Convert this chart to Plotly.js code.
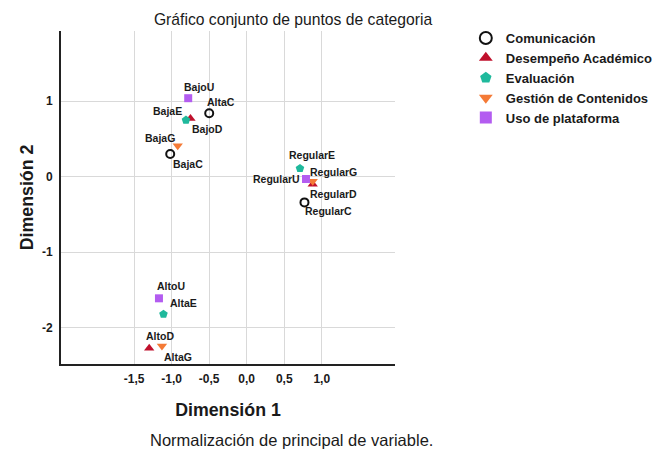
<!DOCTYPE html>
<html>
<head>
<meta charset="utf-8">
<script src="https://cdn.plot.ly/plotly-3.0.1.min.js"></script>
<style>html,body{margin:0;padding:0;background:#fff;}#chart{width:657px;height:449px;}</style>
</head>
<body>
<div id="chart"></div>
<script>
// ---- Data ----
const categories = ['Comunicación', 'Desempeño Académico', 'Evaluación', 'Gestión de Contenidos', 'Uso de plataforma'];

const comLabels = ['AltaC', 'BajaC', 'RegularC'];
const comX = [-0.50, -1.02, 0.77];
const comY = [0.84, 0.30, -0.34];

const desLabels = ['BajoD', 'RegularD', 'AltoD'];
const desX = [-0.75, 0.88, -1.30];
const desY = [0.77, -0.10, -2.27];

const evaLabels = ['BajaE', 'RegularE', 'AltaE'];
const evaX = [-0.81, 0.71, -1.11];
const evaY = [0.75, 0.11, -1.82];

const gesLabels = ['BajaG', 'RegularG', 'AltaG'];
const gesX = [-0.92, 0.88, -1.13];
const gesY = [0.41, -0.06, -2.24];

const usoLabels = ['BajoU', 'RegularU', 'AltoU'];
const usoX = [-0.78, 0.79, -1.17];
const usoY = [1.04, -0.03, -1.61];

const xTickVals = [-1.5, -1.0, -0.5, 0.0, 0.5, 1.0];
const xTickText = ['-1,5', '-1,0', '-0,5', '0,0', '0,5', '1,0'];
const yTickVals = [-2, -1, 0, 1];
const yTickText = ['-2', '-1', '0', '1'];

// ---- Styles (label pixel offsets, marker looks) ----
const labelOffsets = {
  AltaC: [12, -11], BajaC: [18, 10], RegularC: [24, 9],
  BajoD: [17, 10], RegularD: [21, 10], AltoD: [11, -12],
  BajaE: [-18, -9], RegularE: [12, -13], AltaE: [20, -11],
  BajaG: [-18, -8], RegularG: [21, -9], AltaG: [16, 11],
  BajoU: [11, -11], RegularU: [-29, 0], AltoU: [12, -12]
};

const FONT = 'Liberation Sans, Arial, Helvetica, sans-serif';

const seriesDefs = [
  {x: comX, y: comY, labels: comLabels, marker: {symbol: 'circle-open', size: 8, color: '#111', line: {width: 2, color: '#111'}}},
  {x: desX, y: desY, labels: desLabels, marker: {symbol: 'triangle-up', size: 9, color: '#c0102c', line: {width: 0}}},
  {x: evaX, y: evaY, labels: evaLabels, marker: {symbol: 'pentagon', size: 9, color: '#1fb99c', line: {width: 0}}},
  {x: gesX, y: gesY, labels: gesLabels, marker: {symbol: 'triangle-down', size: 9, color: '#f47a36', line: {width: 0}}},
  {x: usoX, y: usoY, labels: usoLabels, marker: {symbol: 'square', size: 8, color: '#b35cf0', line: {width: 0}}}
];

const traces = seriesDefs.map((s, i) => ({
  type: 'scatter',
  mode: 'markers',
  name: categories[i],
  x: s.x,
  y: s.y,
  text: s.labels,
  marker: s.marker,
  hoverinfo: 'text'
}));

const annotations = [];
seriesDefs.forEach(s => {
  s.labels.forEach((lab, j) => {
    const off = labelOffsets[lab] || [0, 0];
    annotations.push({
      x: s.x[j], y: s.y[j], xref: 'x', yref: 'y',
      text: lab, showarrow: false,
      xanchor: 'center', yanchor: 'middle',
      xshift: off[0], yshift: -off[1],
      font: {family: FONT, size: 10.5, color: '#1a1a1a', weight: 'bold'}
    });
  });
});

annotations.push({
  xref: 'paper', yref: 'paper', x: 0.6916, y: -0.228,
  xanchor: 'center', yanchor: 'middle', showarrow: false,
  text: 'Normalización de principal de variable.',
  font: {family: FONT, size: 16.5, color: '#1a1a1a'}
});

const layout = {
  width: 657, height: 449,
  margin: {l: 61, r: 262, t: 31, b: 85, pad: 0},
  paper_bgcolor: '#fff', plot_bgcolor: '#fff',
  separators: ',.',
  font: {family: FONT, color: '#1a1a1a'},
  title: {
    text: 'Gráfico conjunto de puntos de categoria',
    x: 0.446, xref: 'container', xanchor: 'center',
    y: 0.956, yref: 'container', yanchor: 'middle',
    font: {family: FONT, size: 15.7, color: '#1a1a1a'}
  },
  xaxis: {
    range: [-2.476, 1.977],
    tickvals: xTickVals, ticktext: xTickText,
    showgrid: true, gridcolor: '#d9d9d9', gridwidth: 1,
    zeroline: false, showline: true, linecolor: '#222', linewidth: 2,
    ticks: '', mirror: false, ticklabelstandoff: 3,
    tickfont: {family: FONT, size: 12, color: '#1a1a1a', weight: 'bold'},
    title: {text: 'Dimensión 1', standoff: 18, font: {family: FONT, size: 17.8, color: '#1a1a1a', weight: 'bold'}}
  },
  yaxis: {
    range: [-2.48, 1.93],
    tickvals: yTickVals, ticktext: yTickText,
    showgrid: true, gridcolor: '#d9d9d9', gridwidth: 1,
    zeroline: false, showline: true, linecolor: '#222', linewidth: 2,
    ticks: '', mirror: false, ticklabelstandoff: 4,
    tickfont: {family: FONT, size: 12, color: '#1a1a1a', weight: 'bold'},
    title: {text: 'Dimensión 2', standoff: 4, font: {family: FONT, size: 17.8, color: '#1a1a1a', weight: 'bold'}}
  },
  legend: {
    x: 0.709, xref: 'container', xanchor: 'left',
    y: 0.9488, yref: 'container', yanchor: 'top',
    bgcolor: 'rgba(0,0,0,0)', borderwidth: 0,
    itemsizing: 'constant',
    font: {family: FONT, size: 13, color: '#1a1a1a', weight: 'bold'}
  },
  showlegend: true,
  annotations: annotations
};

Plotly.newPlot('chart', traces, layout, {displayModeBar: false, staticPlot: true});
</script>
</body>
</html>
